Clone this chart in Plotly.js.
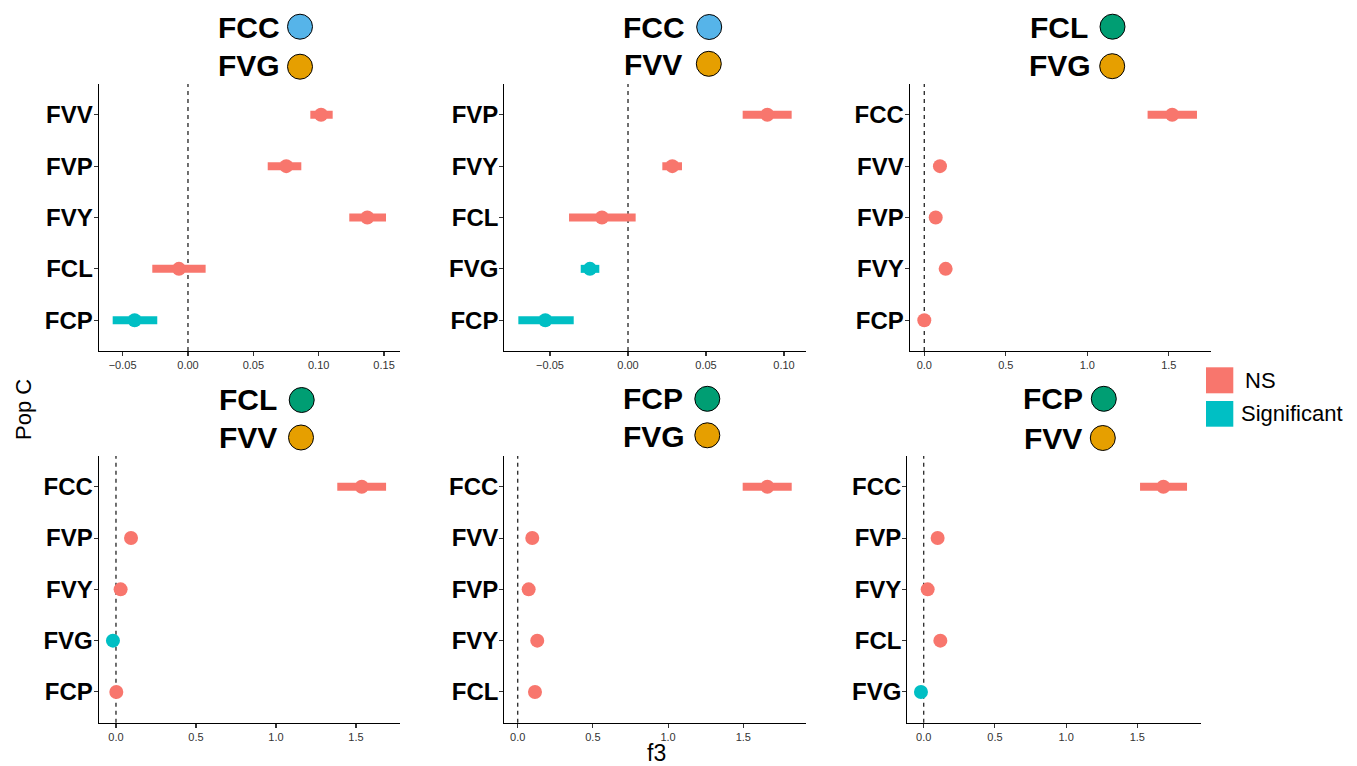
<!DOCTYPE html>
<html>
<head>
<meta charset="utf-8">
<script src="https://cdn.plot.ly/plotly-3.0.1.min.js"></script>
<style>html,body{margin:0;padding:0;background:#fff;}#chart{width:1357px;height:766px;}</style>
</head>
<body>
<div id="chart"></div>
<script>
// ---------------- DATA ----------------
const cats1 = ['FVV','FVP','FVY','FCL','FCP'];
const f3_1  = [0.1018, 0.0752, 0.1372, -0.0069, -0.0408];
const lo_1  = [0.0936, 0.0610, 0.1234, -0.0273, -0.0576];
const hi_1  = [0.1107, 0.0867, 0.1515, 0.0135, -0.0235];
const sig_1 = ['NS','NS','NS','NS','Significant'];
const pops_1 = ['FCC','FVG'];

const cats2 = ['FVP','FVY','FCL','FVG','FCP'];
const f3_2  = [0.0893, 0.0284, -0.0167, -0.0244, -0.0530];
const lo_2  = [0.0735, 0.0220, -0.0378, -0.0303, -0.0703];
const hi_2  = [0.1049, 0.0346, 0.0049, -0.0184, -0.0348];
const sig_2 = ['NS','NS','NS','Significant','Significant'];
const pops_2 = ['FCC','FVV'];

const cats3 = ['FCC','FVV','FVP','FVY','FCP'];
const f3_3  = [1.521, 0.096, 0.070, 0.131, 0.000];
const lo_3  = [1.370, 0.080, 0.055, 0.115, -0.015];
const hi_3  = [1.673, 0.112, 0.085, 0.147, 0.015];
const sig_3 = ['NS','NS','NS','NS','NS'];
const pops_3 = ['FCL','FVG'];

const cats4 = ['FCC','FVP','FVY','FVG','FCP'];
const f3_4  = [1.536, 0.094, 0.029, -0.019, 0.002];
const lo_4  = [1.383, 0.078, 0.013, -0.030, -0.013];
const hi_4  = [1.688, 0.110, 0.045, -0.008, 0.017];
const sig_4 = ['NS','NS','NS','Significant','NS'];
const pops_4 = ['FCL','FVV'];

const cats5 = ['FCC','FVV','FVP','FVY','FCL'];
const f3_5  = [1.660, 0.097, 0.073, 0.130, 0.115];
const lo_5  = [1.496, 0.081, 0.057, 0.114, 0.099];
const hi_5  = [1.822, 0.113, 0.089, 0.146, 0.131];
const sig_5 = ['NS','NS','NS','NS','NS'];
const pops_5 = ['FCP','FVG'];

const cats6 = ['FCC','FVP','FVY','FCL','FVG'];
const f3_6  = [1.683, 0.098, 0.028, 0.117, -0.019];
const lo_6  = [1.519, 0.082, 0.012, 0.101, -0.030];
const hi_6  = [1.849, 0.114, 0.044, 0.133, -0.008];
const sig_6 = ['NS','NS','NS','NS','Significant'];
const pops_6 = ['FCP','FVV'];

const popColors = {FCC:'#56B4E9', FCL:'#009E73', FCP:'#009E73', FVG:'#E69F00', FVV:'#E69F00'};
const groups = ['NS','Significant'];
const groupColors = {NS:'#F8766D', Significant:'#00BFC4'};

const tickvals_small1 = [-0.05, 0, 0.05, 0.10, 0.15];
const ticktext_small1 = ['\u22120.05','0.00','0.05','0.10','0.15'];
const tickvals_small2 = [-0.05, 0, 0.05, 0.10];
const ticktext_small2 = ['\u22120.05','0.00','0.05','0.10'];
const tickvals_big = [0, 0.5, 1.0, 1.5];
const ticktext_big = ['0.0','0.5','1.0','1.5'];

const xTitle = 'f3';
const yTitle = 'Pop C';

// ---------------- LAYOUT GEOMETRY (pixels) ----------------
const W = 1357, H = 766;
const px = v => v / W;
const py = v => 1 - v / H;

const panels = [
  {cats:cats1,f3:f3_1,lo:lo_1,hi:hi_1,sig:sig_1,pops:pops_1,tv:tickvals_small1,tt:ticktext_small1,
   xd:[98.7,400], yd:[84,351], xr:[-0.0683,0.1622],
   tl:[[215.5,27.2,300,26.7],[216.2,65.5,300,66.7]]},
  {cats:cats2,f3:f3_2,lo:lo_2,hi:hi_2,sig:sig_2,pops:pops_2,tv:tickvals_small2,tt:ticktext_small2,
   xd:[504.3,805.7], yd:[84,351], xr:[-0.0793,0.1139],
   tl:[[621.2,27.2,709.2,27],[622.2,64.7,708.8,63.8]]},
  {cats:cats3,f3:f3_3,lo:lo_3,hi:hi_3,sig:sig_3,pops:pops_3,tv:tickvals_big,tt:ticktext_big,
   xd:[909.7,1211], yd:[84,351], xr:[-0.0896,1.759],
   tl:[[1027.9,27.5,1112.5,26.7],[1027.2,65.5,1112.2,66.2]]},
  {cats:cats4,f3:f3_4,lo:lo_4,hi:hi_4,sig:sig_4,pops:pops_4,tv:tickvals_big,tt:ticktext_big,
   xd:[98.7,400], yd:[456,722.7], xr:[-0.108,1.775],
   tl:[[217.2,399,301.7,400],[217.2,437,301,437.5]]},
  {cats:cats5,f3:f3_5,lo:lo_5,hi:hi_5,sig:sig_5,pops:pops_5,tv:tickvals_big,tt:ticktext_big,
   xd:[504.3,805.7], yd:[456,722.7], xr:[-0.089,1.915],
   tl:[[621.2,398.3,707.3,398.8],[621.2,436.7,707.3,435.3]]},
  {cats:cats6,f3:f3_6,lo:lo_6,hi:hi_6,sig:sig_6,pops:pops_6,tv:tickvals_big,tt:ticktext_big,
   xd:[907.3,1201], yd:[456,722.7], xr:[-0.115,1.947],
   tl:[[1021.2,398.8,1103.8,398.8],[1022.2,438,1102.8,438]]}
];

const FONT = 'Liberation Sans, Arial, Helvetica, sans-serif';
const traces = [];
const layout = {
  width: W, height: H,
  margin: {l:0, r:0, t:0, b:0},
  paper_bgcolor: '#ffffff', plot_bgcolor: '#ffffff',
  showlegend: false,
  font: {family: FONT, color: '#000'},
  annotations: [], shapes: []
};

panels.forEach((p, i) => {
  const n = i + 1;
  const xa = 'x' + (n === 1 ? '' : n), ya = 'y' + (n === 1 ? '' : n);
  groups.forEach(g => {
    const idx = p.cats.map((c, k) => k).filter(k => p.sig[k] === g);
    if (!idx.length) return;
    traces.push({
      type: 'scatter', mode: 'markers', name: g,
      x: idx.map(k => p.f3[k]), y: idx.map(k => p.cats[k]),
      xaxis: xa, yaxis: ya,
      marker: {size: 14, color: groupColors[g], line: {width: 0}},
      error_x: {type: 'data', symmetric: false,
        array: idx.map(k => p.hi[k] - p.f3[k]),
        arrayminus: idx.map(k => p.f3[k] - p.lo[k]),
        thickness: 8, width: 0, color: groupColors[g]},
      hoverinfo: 'x+y', cliponaxis: false
    });
  });
  layout['xaxis' + (n === 1 ? '' : n)] = {
    domain: [px(p.xd[0]), px(p.xd[1])], anchor: ya,
    range: p.xr, autorange: false,
    showgrid: false, zeroline: false,
    showline: true, linecolor: '#000', linewidth: 1.1,
    ticks: 'outside', ticklen: 4, tickcolor: '#333', tickwidth: 1.1,
    tickvals: p.tv, ticktext: p.tt,
    tickfont: {family: FONT, size: 11, color: '#333'}
  };
  layout['yaxis' + (n === 1 ? '' : n)] = {
    domain: [py(p.yd[1]), py(p.yd[0])], anchor: xa,
    type: 'category', categoryorder: 'array', categoryarray: p.cats,
    range: [4.6, -0.6], autorange: false,
    showgrid: false, zeroline: false,
    showline: true, linecolor: '#000', linewidth: 1.1,
    ticks: 'outside', ticklen: 4, tickcolor: '#333', tickwidth: 1.1,
    ticklabelstandoff: -4,
    tickfont: {family: FONT, size: 24, color: '#000', weight: 'bold'}
  };
  // dashed zero line
  layout.shapes.push({type: 'line', xref: xa, yref: ya + ' domain',
    x0: 0, x1: 0, y0: 0, y1: 1,
    line: {color: '#333', width: 1.4, dash: '4px,4px'}, layer: 'below'});
  // titles
  p.pops.forEach((pop, j) => {
    const [tx, ty, cx, cy] = p.tl[j];
    layout.annotations.push({text: '<b>' + pop + '</b>', xref: 'paper', yref: 'paper',
      x: px(tx), y: py(ty), xanchor: 'left', yanchor: 'middle', showarrow: false,
      font: {family: FONT, size: 30, color: '#000'}});
    layout.shapes.push({type: 'circle', xref: 'paper', yref: 'paper',
      xsizemode: 'pixel', ysizemode: 'pixel', xanchor: px(cx), yanchor: py(cy),
      x0: -12.5, x1: 12.5, y0: -12.5, y1: 12.5,
      fillcolor: popColors[pop], line: {color: '#000', width: 1}});
  });
});

// axis titles
layout.annotations.push({text: yTitle, xref: 'paper', yref: 'paper', x: px(23), y: py(410),
  xanchor: 'center', yanchor: 'middle', textangle: -90, showarrow: false,
  font: {family: FONT, size: 22, color: '#000'}});
layout.annotations.push({text: xTitle, xref: 'paper', yref: 'paper', x: px(656), y: py(753),
  xanchor: 'center', yanchor: 'middle', showarrow: false,
  font: {family: FONT, size: 23, color: '#000'}});

// legend (manual)
const legY = [[367.3, 393.3, 380], [401, 426.7, 413.5]];
const legTextX = [1243, 1239];
groups.forEach((g, k) => {
  layout.shapes.push({type: 'rect', xref: 'paper', yref: 'paper',
    x0: px(1206), x1: px(1233.3), y0: py(legY[k][1]), y1: py(legY[k][0]),
    fillcolor: groupColors[g], line: {width: 0}});
  layout.annotations.push({text: g, xref: 'paper', yref: 'paper',
    x: px(legTextX[k]), y: py(legY[k][2]), xanchor: 'left', yanchor: 'middle', showarrow: false,
    font: {family: FONT, size: 22, color: '#000'}});
});

Plotly.newPlot('chart', traces, layout, {displayModeBar: false, staticPlot: true});
</script>
</body>
</html>
